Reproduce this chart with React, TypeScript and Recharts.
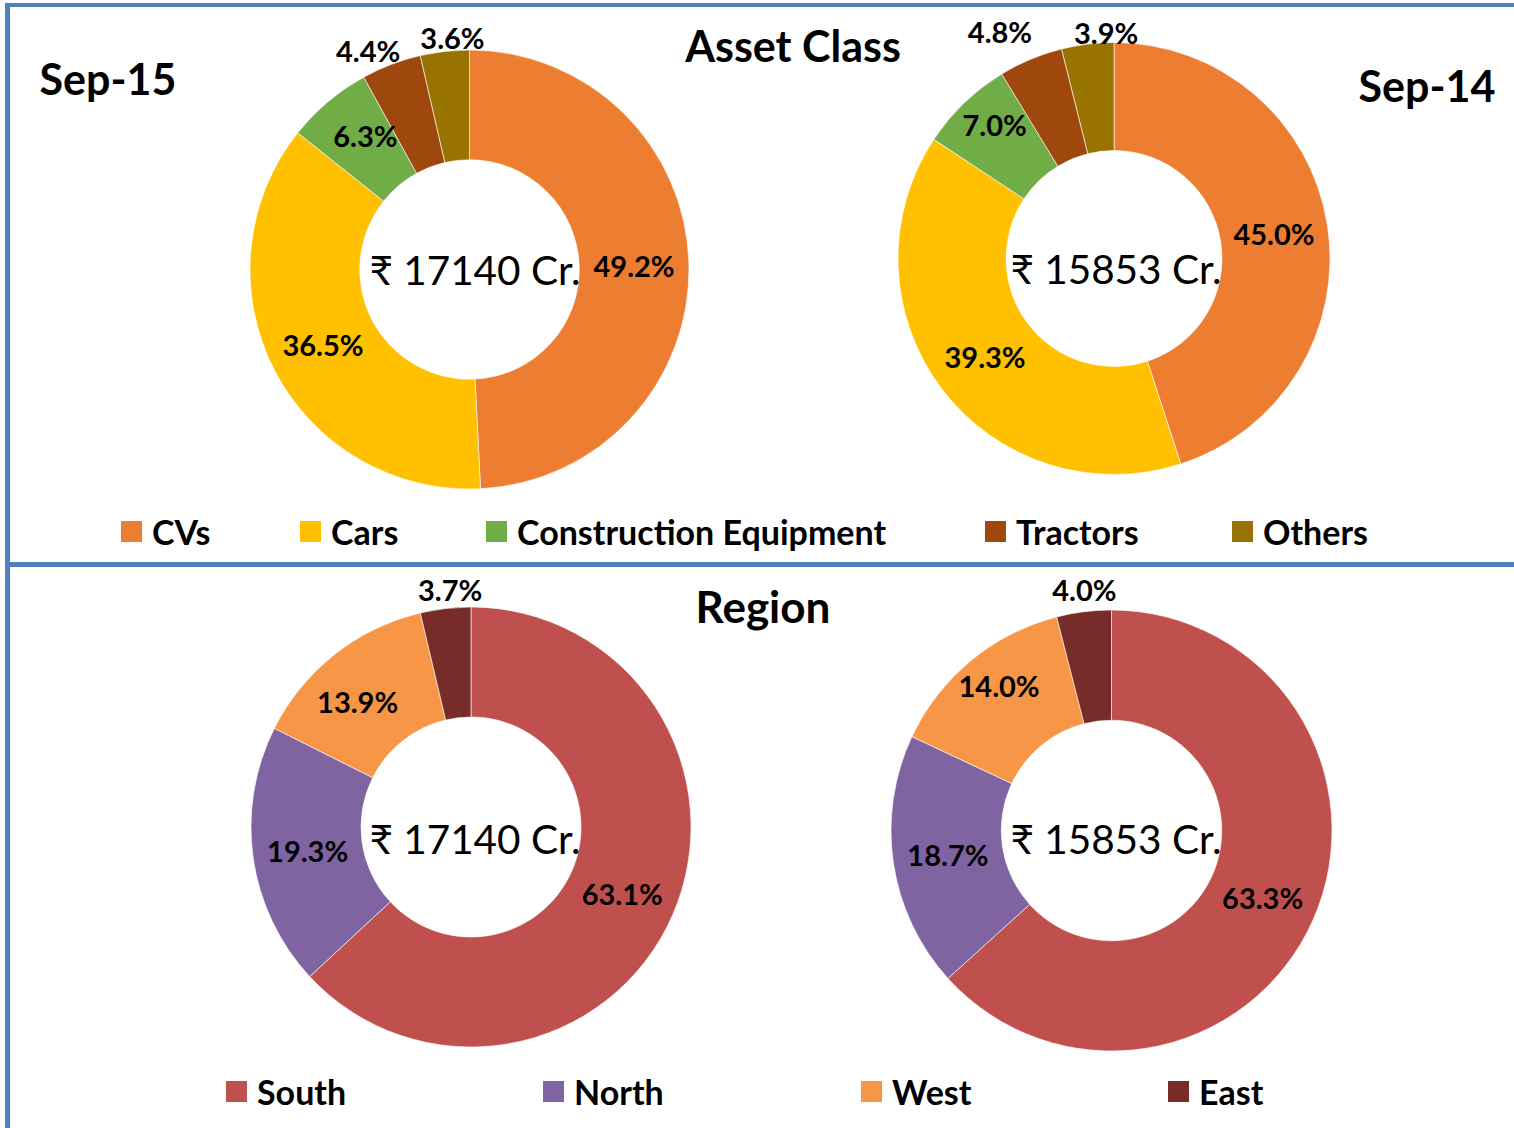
import React from 'react'
import { PieChart, Pie, Cell } from 'recharts'

// asset class split (% of book)
const assetNames = ['CVs', 'Cars', 'Construction Equipment', 'Tractors', 'Others']
const assetSep15 = [49.2, 36.5, 6.3, 4.4, 3.6]
const assetSep14 = [45.0, 39.3, 7.0, 4.8, 3.9]
const assetColors = ['#ED7D31', '#FFC000', '#70AD47', '#9E480E', '#997300']

// region split (% of book)
const regionNames = ['South', 'North', 'West', 'East']
const regionSep15 = [63.1, 19.3, 13.9, 3.7]
const regionSep14 = [63.3, 18.7, 14.0, 4.0]
const regionColors = ['#C0504D', '#8064A2', '#F79646', '#772C2A']

const totals = ['₹ 17140 Cr.', '₹ 15853 Cr.']

const W = 1514
const H = 1128
const FONT = 'Lato, "DejaVu Sans", sans-serif'
const BLUE = '#4F81BD'
const RAD = Math.PI / 180

// where Excel pushed the labels around
const labelNudge: Record<string, [number, number]> = {
  'a15-2': [2, -8],
  'a15-3': [-16, 5],
  'a15-4': [10, 6],
  'a14-2': [-7, -17],
  'a14-3': [-23, -9],
  'a14-4': [21, 8],
  'r15-2': [-11, 4],
  'r15-3': [7, 1],
  'r14-2': [-7, -18],
  'r14-3': [3, -2],
}

const makeLabel = (key: string) => (props: any) => {
  const { cx, cy, midAngle, innerRadius, outerRadius, value, index } = props
  const outside = value < 5
  const r = outside ? outerRadius + 20 : (innerRadius + outerRadius) / 2
  const [dx, dy] = labelNudge[`${key}-${index}`] || [0, 0]
  const x = cx + r * Math.cos(-midAngle * RAD) + dx
  const y = cy + r * Math.sin(-midAngle * RAD) + dy
  return (
    <text
      x={x}
      y={y}
      textAnchor="middle"
      dominantBaseline="central"
      fill="#000"
      fontFamily={FONT}
      fontWeight={700}
      fontSize={29}
    >
      {`${Number(value).toFixed(1)}%`}
    </text>
  )
}

// tx/ty: where the total sits inside the hole
const pies = [
  { key: 'a15', names: assetNames, values: assetSep15, colors: assetColors, cx: 469.5, cy: 269.5, r: 219.5, total: totals[0], tx: 475, ty: 269 },
  { key: 'a14', names: assetNames, values: assetSep14, colors: assetColors, cx: 1114, cy: 258.5, r: 216, total: totals[1], tx: 1116, ty: 268 },
  { key: 'r15', names: regionNames, values: regionSep15, colors: regionColors, cx: 471, cy: 827, r: 220, total: totals[0], tx: 475, ty: 838 },
  { key: 'r14', names: regionNames, values: regionSep14, colors: regionColors, cx: 1111.5, cy: 830.5, r: 220.5, total: totals[1], tx: 1116, ty: 838 },
]

const assetLegendX = [121, 300, 486, 985, 1232]
const regionLegendX = [226, 543, 861, 1168]

function LegendRow({ names, colors, xs, y }: { names: string[]; colors: string[]; xs: number[]; y: number }) {
  return (
    <>
      {names.map((n, i) => (
        <div key={n} style={{ position: 'absolute', left: xs[i], top: y - 20, height: 40, display: 'flex', alignItems: 'center' }}>
          <div style={{ width: 21, height: 21, background: colors[i], marginRight: 10 }} />
          <span style={{ fontFamily: FONT, fontWeight: 700, fontSize: 34, color: '#000', whiteSpace: 'nowrap' }}>{n}</span>
        </div>
      ))}
    </>
  )
}

function TextAt({ x, y, children, size, weight }: { x: number; y: number; children: React.ReactNode; size: number; weight: number }) {
  return (
    <div
      style={{
        position: 'absolute',
        left: x - 300,
        top: y - 30,
        width: 600,
        height: 60,
        display: 'flex',
        alignItems: 'center',
        justifyContent: 'center',
        fontFamily: FONT,
        fontWeight: weight,
        fontSize: size,
        color: '#000',
        whiteSpace: 'nowrap',
        pointerEvents: 'none',
      }}
    >
      {children}
    </div>
  )
}

export default function App() {
  return (
    <div style={{ position: 'absolute', left: 0, top: 0, width: W, height: H, background: '#fff', overflow: 'hidden' }}>
      <PieChart width={W} height={H} margin={{ top: 0, right: 0, bottom: 0, left: 0 }} style={{ position: 'absolute', left: 0, top: 0 }}>
        {pies.map((p) => (
          <Pie
            key={p.key}
            data={p.names.map((name, i) => ({ name, value: p.values[i] }))}
            dataKey="value"
            nameKey="name"
            cx={p.cx}
            cy={p.cy}
            innerRadius={p.r * 0.5}
            outerRadius={p.r}
            startAngle={90}
            endAngle={-270}
            stroke="#ffffff"
            strokeWidth={0.6}
            label={makeLabel(p.key)}
            labelLine={false}
            isAnimationActive={false}
          >
            {p.names.map((n, i) => (
              <Cell key={n} fill={p.colors[i]} />
            ))}
          </Pie>
        ))}
      </PieChart>

      {pies.map((p) => (
        <TextAt key={p.key} x={p.tx} y={p.ty} size={40.5} weight={400}>
          {p.total}
        </TextAt>
      ))}

      <TextAt x={793} y={45} size={43} weight={700}>Asset Class</TextAt>
      <TextAt x={763} y={606} size={44} weight={700}>Region</TextAt>
      <TextAt x={108} y={78} size={43} weight={700}>Sep-15</TextAt>
      <TextAt x={1427} y={85} size={43} weight={700}>Sep-14</TextAt>

      <LegendRow names={assetNames} colors={assetColors} xs={assetLegendX} y={531} />
      <LegendRow names={regionNames} colors={regionColors} xs={regionLegendX} y={1091} />

      {/* frame lines */}
      <div style={{ position: 'absolute', left: 5, top: 3, width: W - 5, height: 4, background: BLUE }} />
      <div style={{ position: 'absolute', left: 5, top: 3, width: 5, height: H - 3, background: BLUE }} />
      <div style={{ position: 'absolute', left: 5, top: 562, width: W - 5, height: 5, background: BLUE }} />
    </div>
  )
}
